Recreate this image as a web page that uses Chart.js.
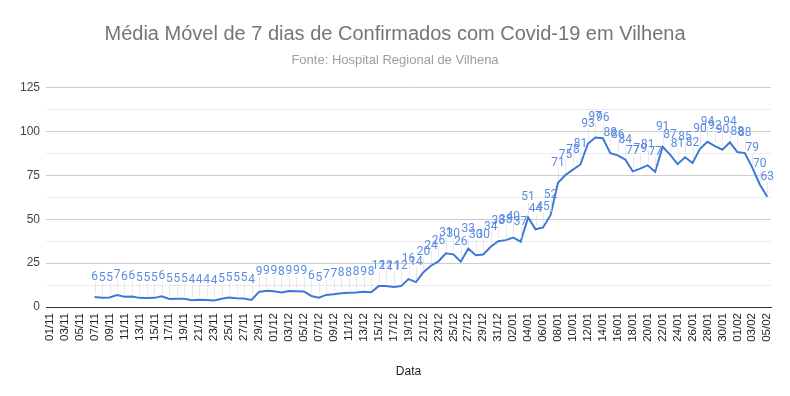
<!DOCTYPE html>
<html>
<head>
  <meta charset="utf-8">
  <style>
    html, body { margin: 0; padding: 0; background: #ffffff; }
    #wrap { width: 790px; height: 396px; }
  </style>
  <script src="https://cdn.jsdelivr.net/npm/chart.js"></script>
</head>
<body>
  <div id="wrap"><canvas id="grafico" width="790" height="396"></canvas></div>
  <script>
    // dias (categorias)
    const dias = [
      '01/11','02/11','03/11','04/11','05/11','06/11','07/11','08/11','09/11','10/11',
      '11/11','12/11','13/11','14/11','15/11','16/11','17/11','18/11','19/11','20/11',
      '21/11','22/11','23/11','24/11','25/11','26/11','27/11','28/11','29/11','30/11',
      '01/12','02/12','03/12','04/12','05/12','06/12','07/12','08/12','09/12','10/12',
      '11/12','12/12','13/12','14/12','15/12','16/12','17/12','18/12','19/12','20/12',
      '21/12','22/12','23/12','24/12','25/12','26/12','27/12','28/12','29/12','30/12','31/12',
      '01/01','02/01','03/01','04/01','05/01','06/01','07/01','08/01','09/01','10/01',
      '11/01','12/01','13/01','14/01','15/01','16/01','17/01','18/01','19/01','20/01',
      '21/01','22/01','23/01','24/01','25/01','26/01','27/01','28/01','29/01','30/01','31/01',
      '01/02','02/02','03/02','04/02','05/02'
    ];

    // media movel de 7 dias (sem dados ate 06/11)
    const mediaMovel = [
      null, null, null, null, null, null, 5.7, 5.3, 5.4, 6.8,
      5.8, 6.0, 5.2, 5.1, 5.2, 6.1, 4.6, 4.7, 4.7, 3.9,
      4.1, 4.0, 3.7, 4.7, 5.4, 5.0, 4.9, 4.0, 8.6, 9.3,
      9.0, 8.3, 9.1, 9.0, 8.9, 6.3, 5.3, 6.9, 7.3, 7.8,
      8.1, 8.3, 8.7, 8.4, 11.9, 12.0, 11.4, 11.9, 15.9, 14.2,
      19.8, 23.5, 26.0, 30.6, 30.0, 25.8, 33.3, 29.5, 29.9, 34.3, 37.5,
      38.1, 39.6, 37.2, 51.0, 44.3, 45.3, 52.3, 70.8, 75.2, 78.3,
      81.2, 93.0, 96.6, 96.2, 87.6, 86.4, 84.0, 77.3, 78.8, 80.7,
      77.0, 91.3, 86.8, 81.4, 85.3, 82.0, 90.1, 94.1, 91.6, 89.6, 93.8,
      88.3, 87.7, 79.4, 69.8, 62.8
    ];

    const yTicks = [0, 25, 50, 75, 100, 125];

    const azulLinha = '#3d78d8';
    const azulRotulo = '#5b8ce2';

    // rotulos de dados com linha guia (estilo Google Planilhas)
    const rotulos = {
      id: 'rotulos',
      afterDatasetsDraw(chart) {
        const ctx = chart.ctx;
        const meta = chart.getDatasetMeta(0);
        ctx.save();
        ctx.font = '12px Roboto, "Liberation Sans", Arial, sans-serif';
        ctx.textAlign = 'center';
        ctx.textBaseline = 'bottom';
        meta.data.forEach((pt, i) => {
          const v = mediaMovel[i];
          if (v === null) return;
          ctx.strokeStyle = 'rgba(215,215,215,0.55)';
          ctx.lineWidth = 1;
          ctx.beginPath();
          ctx.moveTo(Math.round(pt.x) + 0.5, pt.y - 15);
          ctx.lineTo(Math.round(pt.x) + 0.5, pt.y - 3);
          ctx.stroke();
          ctx.fillStyle = azulRotulo;
          ctx.fillText(String(Math.round(v)), pt.x, pt.y - 14);
        });
        ctx.restore();
      }
    };

    const ehMaior = v => Math.abs(v / 25 - Math.round(v / 25)) < 1e-6;

    new Chart(document.getElementById('grafico'), {
      type: 'line',
      data: {
        labels: dias,
        datasets: [{
          data: mediaMovel,
          borderColor: azulLinha,
          borderWidth: 2,
          pointRadius: 0,
          tension: 0,
          fill: false
        }]
      },
      options: {
        responsive: false,
        animation: false,
        layout: { padding: { left: 19, right: 19, top: 0, bottom: 17 } },
        plugins: {
          legend: { display: false },
          tooltip: { enabled: false },
          title: {
            display: true,
            text: 'Média Móvel de 7 dias de Confirmados com Covid-19 em Vilhena',
            color: '#757575',
            font: { family: '"Liberation Sans", Arial, sans-serif', size: 20, weight: 'normal', lineHeight: 1.2 },
            padding: { top: 22, bottom: 4 }
          },
          subtitle: {
            display: true,
            text: 'Fonte: Hospital Regional de Vilhena',
            color: '#9e9e9e',
            font: { family: '"Liberation Sans", Arial, sans-serif', size: 13, weight: 'normal', lineHeight: 1.2 },
            padding: { top: 3, bottom: 19 }
          }
        },
        scales: {
          x: {
            offset: true,
            grid: { display: false, drawTicks: false },
            border: { display: true, color: '#333333', width: 1 },
            ticks: {
              autoSkip: false,
              maxRotation: 90,
              minRotation: 90,
              padding: 6,
              color: '#222222',
              font: { family: '"Liberation Sans", Arial, sans-serif', size: 11.5 },
              callback: (val, i) => (i % 2 === 0 ? dias[i] : '')
            },
            title: {
              display: true,
              text: 'Data',
              color: '#222222',
              font: { family: '"Liberation Sans", Arial, sans-serif', size: 12 },
              padding: { top: 8, bottom: 0 }
            },
            afterFit: s => { s.height = 72; }
          },
          y: {
            min: 0,
            max: 125,
            grid: {
              drawTicks: false,
              color: c => (ehMaior(c.tick.value) ? '#cccccc' : '#ebebeb'),
              lineWidth: 1
            },
            border: { display: false },
            ticks: {
              stepSize: 6.25,
              padding: 6,
              color: '#444444',
              font: { family: '"Liberation Sans", Arial, sans-serif', size: 12 },
              callback: v => (ehMaior(v) && yTicks.includes(Math.round(v)) ? Math.round(v) : '')
            },
            afterFit: s => { s.width = 27; }
          }
        }
      },
      plugins: [rotulos]
    });
  </script>
</body>
</html>
